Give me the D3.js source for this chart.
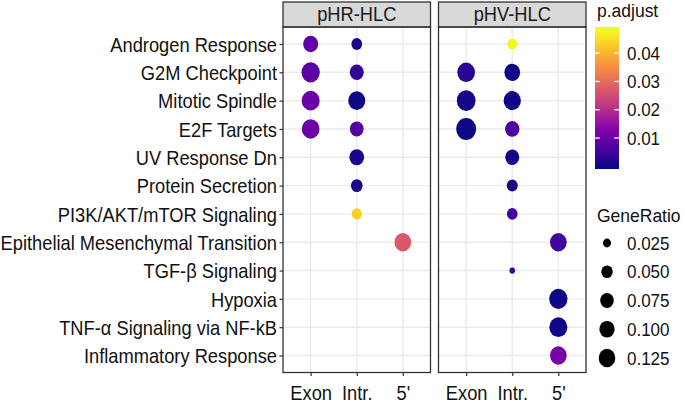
<!DOCTYPE html>
<html><head><meta charset="utf-8">
<script src="https://cdn.jsdelivr.net/npm/d3@7"></script>
<style>body{margin:0;background:#fff}svg{display:block}text{font-family:"Liberation Sans",Arial,sans-serif}</style>
</head><body><svg id="c" width="685" height="403"></svg>
<script>
const pathways = ["Androgen Response","G2M Checkpoint","Mitotic Spindle","E2F Targets","UV Response Dn","Protein Secretion","PI3K/AKT/mTOR Signaling","Epithelial Mesenchymal Transition","TGF-\u03b2 Signaling","Hypoxia","TNF-\u03b1 Signaling via NF-kB","Inflammatory Response"];
const facets = ["pHR-HLC","pHV-HLC"];
const regions = ["Exon","Intr.","5'"];
const colorTicks = [0.01,0.02,0.03,0.04];
const sizeTicks = [0.025,0.050,0.075,0.100,0.125];
const sizeTickLabels = ["0.025","0.050","0.075","0.100","0.125"];

// one entry per dot
const dotFacet   = ["pHR-HLC","pHR-HLC","pHR-HLC","pHR-HLC","pHR-HLC","pHR-HLC","pHR-HLC","pHR-HLC","pHR-HLC","pHR-HLC","pHR-HLC","pHR-HLC",
                    "pHV-HLC","pHV-HLC","pHV-HLC","pHV-HLC","pHV-HLC","pHV-HLC","pHV-HLC","pHV-HLC","pHV-HLC","pHV-HLC","pHV-HLC","pHV-HLC","pHV-HLC","pHV-HLC","pHV-HLC"];
const dotRegion  = ["Exon","Exon","Exon","Exon","Intr.","Intr.","Intr.","Intr.","Intr.","Intr.","Intr.","5'",
                    "Exon","Exon","Exon","Intr.","Intr.","Intr.","Intr.","Intr.","Intr.","Intr.","Intr.","5'","5'","5'","5'"];
const dotPathway = [0,1,2,3,0,1,2,3,4,5,6,7,
                    1,2,3,0,1,2,3,4,5,6,8,7,9,10,11];
const dotGeneRatio = [0.097,0.160,0.153,0.147,0.043,0.081,0.133,0.077,0.092,0.052,0.039,0.127,
                      0.147,0.169,0.200,0.037,0.109,0.139,0.086,0.081,0.045,0.043,0.020,0.127,0.160,0.153,0.127];
const dotPAdjust = [0.0085,0.0080,0.0099,0.0102,0.0015,0.0035,0.0004,0.0075,0.0012,0.0010,0.0430,0.0270,
                    0.0025,0.0010,0.0003,0.0480,0.0006,0.0005,0.0065,0.0008,0.0010,0.0050,0.0045,0.0050,0.0004,0.0005,0.0115];

const svg = d3.select("#c");
const panelTop = 27, panelBottom = 372.5, stripTop = 2;
const panelX = {"pHR-HLC":[283,430.5],"pHV-HLC":[438.5,586]};
const font = 18.3;
const stretch = 1.1;

// stretch text vertically (reference text is tall and narrow)
function tall(sel){
  sel.each(function(){
    const t = d3.select(this);
    const x = +t.attr("x") || 0, yv = +t.attr("y") || 0;
    t.attr("x",0).attr("y",0).attr("transform",`translate(${x},${yv}) scale(1,${stretch})`);
  });
}

const y = d3.scalePoint().domain(pathways.map((d,i)=>i)).range([panelTop,panelBottom]).padding(0.6);
const xs = {};
facets.forEach(f=>{ xs[f] = d3.scalePoint().domain(regions).range(panelX[f]).padding(0.6); });

const pExt = d3.extent(dotPAdjust);
const color = d3.scaleSequential(d3.interpolatePlasma).domain(pExt);
const gExt = d3.extent(dotGeneRatio);
const sizeT = d3.scaleLinear().domain(gExt).range([0,1]).clamp(true);
const dMin = 5.6, dMax = 20;
const diam = v => dMin + (dMax-dMin)*Math.sqrt(sizeT(v));
const aspect = 1.1;

// panels
facets.forEach(f=>{
  const [x0,x1] = panelX[f];
  const g = svg.append("g");
  g.append("rect").attr("x",x0).attr("y",panelTop).attr("width",x1-x0).attr("height",panelBottom-panelTop).attr("fill","#fff");
  g.selectAll("line.gy").data(pathways.map((d,i)=>i)).join("line")
    .attr("x1",x0).attr("x2",x1).attr("y1",d=>y(d)).attr("y2",d=>y(d))
    .attr("stroke","#ebebeb").attr("stroke-width",1.4);
  g.selectAll("line.gx").data(regions).join("line")
    .attr("x1",d=>xs[f](d)).attr("x2",d=>xs[f](d)).attr("y1",panelTop).attr("y2",panelBottom)
    .attr("stroke","#ebebeb").attr("stroke-width",1.4);
  g.append("rect").attr("x",x0).attr("y",stripTop).attr("width",x1-x0).attr("height",panelTop-stripTop)
    .attr("fill","#d9d9d9").attr("stroke","#333").attr("stroke-width",1.3);
  g.append("text").attr("x",(x0+x1)/2).attr("y",21.3).attr("text-anchor","middle")
    .attr("font-size",font).attr("fill","#1a1a1a").text(f).call(tall);
  const ax = d3.axisBottom(xs[f]).tickSize(3.5).tickPadding(4);
  const axg = svg.append("g").attr("transform",`translate(0,${panelBottom})`).call(ax);
  axg.select(".domain").remove();
  axg.selectAll(".tick line").attr("stroke","#333").attr("stroke-width",1.2);
  axg.selectAll(".tick text").attr("font-size",font).attr("fill","#111").attr("font-family","Liberation Sans, Arial, sans-serif").attr("dy",0).attr("y",27.5).call(tall);
});

// dots
const idx = d3.range(dotGeneRatio.length);
svg.append("g").selectAll("ellipse").data(idx).join("ellipse")
  .attr("cx",i=>xs[dotFacet[i]](dotRegion[i]))
  .attr("cy",i=>y(dotPathway[i]))
  .attr("rx",i=>diam(dotGeneRatio[i])/2)
  .attr("ry",i=>diam(dotGeneRatio[i])/2*aspect)
  .attr("fill",i=>color(dotPAdjust[i]));

// panel borders
facets.forEach(f=>{
  const [x0,x1] = panelX[f];
  svg.append("rect").attr("x",x0).attr("y",panelTop).attr("width",x1-x0).attr("height",panelBottom-panelTop)
    .attr("fill","none").attr("stroke","#333").attr("stroke-width",1.3);
});

// y axis
const ay = d3.axisLeft(y).tickSize(3.5).tickPadding(2.5).tickFormat(i=>pathways[i]);
const ayg = svg.append("g").attr("transform",`translate(${panelX["pHR-HLC"][0]},0)`).call(ay);
ayg.select(".domain").remove();
ayg.selectAll(".tick line").attr("stroke","#333").attr("stroke-width",1.2);
ayg.selectAll(".tick text").attr("font-size",font).attr("fill","#111").attr("font-family","Liberation Sans, Arial, sans-serif").attr("dy","0.36em").call(tall);

// colour legend
const cbX = 595, cbW = 24, cbTop = 27, cbBot = 169;
const off = (cbBot-cbTop)*0.025;
const cy = d3.scaleLinear().domain(pExt).range([cbBot-off, cbTop+off]);
const defs = svg.append("defs");
const grad = defs.append("linearGradient").attr("id","pg").attr("x1",0).attr("y1",1).attr("x2",0).attr("y2",0);
grad.append("stop").attr("offset",0).attr("stop-color",d3.interpolatePlasma(0));
d3.range(0,1.0001,0.05).forEach(t=>{
  grad.append("stop").attr("offset",0.025+0.95*t).attr("stop-color",d3.interpolatePlasma(t));
});
grad.append("stop").attr("offset",1).attr("stop-color",d3.interpolatePlasma(1));
svg.append("text").attr("x",597).attr("y",17).attr("font-size",17.5).attr("fill","#111").text("p.adjust").call(tall);
svg.append("rect").attr("x",cbX).attr("y",cbTop).attr("width",cbW).attr("height",cbBot-cbTop).attr("fill","url(#pg)");
colorTicks.forEach(t=>{
  const yy = cy(t);
  svg.append("line").attr("x1",cbX).attr("x2",cbX+4.8).attr("y1",yy).attr("y2",yy).attr("stroke","#fff").attr("stroke-width",1.3);
  svg.append("line").attr("x1",cbX+cbW-4.8).attr("x2",cbX+cbW).attr("y1",yy).attr("y2",yy).attr("stroke","#fff").attr("stroke-width",1.3);
  svg.append("text").attr("x",627).attr("y",yy).attr("dy","0.36em").attr("font-size",17).attr("fill","#111").text(d3.format(".2f")(t)).call(tall);
});

// size legend
svg.append("text").attr("x",597).attr("y",222).attr("font-size",17.5).attr("fill","#111").text("GeneRatio").call(tall);
const sy = d3.scalePoint().domain(sizeTicks).range([243,358]);
sizeTicks.forEach((t,i)=>{
  svg.append("ellipse").attr("cx",607).attr("cy",sy(t)).attr("rx",diam(t)/2).attr("ry",diam(t)/2*aspect).attr("fill","#000");
  svg.append("text").attr("x",627).attr("y",sy(t)).attr("dy","0.36em").attr("font-size",17).attr("fill","#111").text(sizeTickLabels[i]).call(tall);
});
</script></body></html>
